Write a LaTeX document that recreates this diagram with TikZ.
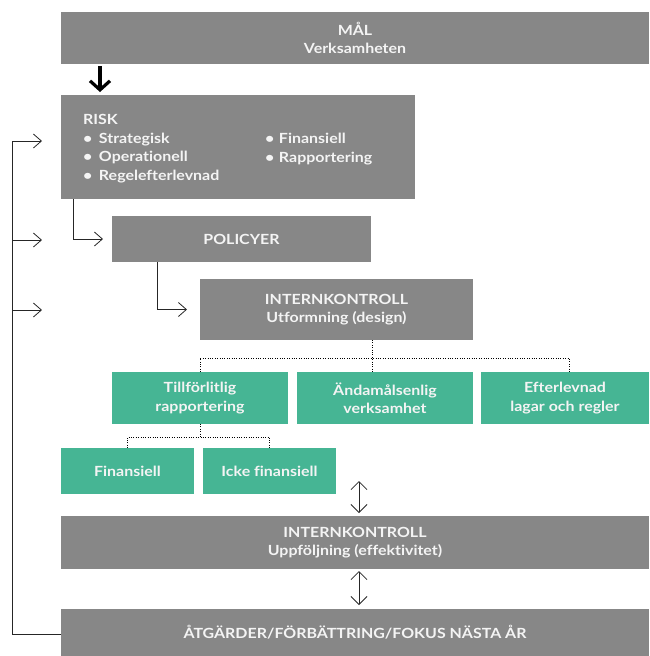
\documentclass[tikz,border=0pt]{standalone}
\usepackage{fontspec}
\setmainfont{Lato}[FakeStretch=1.14, Ligatures=NoCommon]
\usetikzlibrary{arrows.meta}
\definecolor{boxgray}{HTML}{878787}
\definecolor{boxgreen}{HTML}{46B594}
\definecolor{txtc}{HTML}{F4F4F4}
\begin{document}
\begin{tikzpicture}[x=1pt,y=-1pt,
  box/.style={inner sep=0pt, outer sep=0pt, text=txtc, font=\fontsize{14}{18.5}\selectfont\bfseries, align=center},
  gbox/.style={box, fill=boxgray},
  grbox/.style={box, fill=boxgreen},
  lbl/.style={inner sep=0pt, outer sep=0pt, text=txtc, font=\fontsize{14}{18.5}\selectfont\bfseries, align=left, anchor=base west},
  conn/.style={line width=0.8pt, draw=black!85},
  arr/.style={conn, -{Straight Barb[length=8pt,width=14pt]}},
  darr/.style={conn, {Straight Barb[length=8pt,width=16pt]}-{Straight Barb[length=8pt,width=16pt]}},
  dots/.style={line width=0.9pt, dash pattern=on 0.9pt off 1.5pt},
  bigarr/.style={line width=3.2pt, draw=black, -{Straight Barb[length=9pt,width=20pt]}},
]
\useasboundingbox (0,0) rectangle (649,656);
% boxes
\node[gbox, minimum width=588pt, minimum height=52pt] (mal) at (355,38) {MÅL\\Verksamheten};
\node[gbox, minimum width=354pt, minimum height=104pt] (risk) at (238,147) {};
\node[gbox, minimum width=259pt, minimum height=46pt] (pol) at (241.5,239) {POLICYER};
\node[gbox, minimum width=273pt, minimum height=61pt] (ik1) at (336.5,309.5) {INTERNKONTROLL\\Utformning (design)};
\node[grbox, minimum width=176pt, minimum height=52pt] (g1) at (200,398) {Tillförlitlig\\rapportering};
\node[grbox, minimum width=176pt, minimum height=52pt] (g2) at (385,398) {Ändamålsenlig\\verksamhet};
\node[grbox, minimum width=168pt, minimum height=52pt] (g3) at (565,398) {Efterlevnad\\lagar och regler};
\node[grbox, minimum width=133pt, minimum height=46pt] (f1) at (127.5,471) {Finansiell};
\node[grbox, minimum width=133pt, minimum height=46pt] (f2) at (269.5,471) {Icke finansiell};
\node[gbox, minimum width=588pt, minimum height=53pt] (ik2) at (355,542.5) {INTERNKONTROLL\\Uppföljning (effektivitet)};
\node[gbox, minimum width=588pt, minimum height=47pt] (atg) at (355,632.5) {ÅTGÄRDER/FÖRBÄTTRING/FOKUS NÄSTA ÅR};
% risk texts (anchor = baseline of last line)
\node[lbl] (risk1) at (83,180) {RISK\\\makebox[16pt][l]{•}Strategisk\\\makebox[16pt][l]{•}Operationell\\\makebox[16pt][l]{•}Regelefterlevnad};
\node[lbl] (risk2) at (265,162) {\makebox[14pt][l]{•}Finansiell\\\makebox[14pt][l]{•}Rapportering};
% black arrow
\coordinate (ba) at (100,66);
\draw[bigarr, shorten >=3pt] (ba) -- (ba |- risk.north);
% feedback loop
\coordinate (lb) at (12,634);
\coordinate (lt) at (12,141);
\coordinate (lm1) at (12,240);
\coordinate (lm2) at (12,310);
\coordinate (e1) at (42,141);
\coordinate (e2) at (42,240);
\coordinate (e3) at (42,310);
\draw[conn] (lb -| atg.west) -- (lb) -- (lt);
\draw[arr] (lt) -- (e1);
\draw[arr] (lm1) -- (e2);
\draw[arr] (lm2) -- (e3);
% risk -> policy -> ik1
\draw[arr] ([xshift=12pt]risk.south west) |- ([xshift=-9pt]pol.west);
\draw[arr] ([xshift=45pt]pol.south west) |- ([xshift=-13pt]ik1.west);
% dotted tree
\coordinate (dl) at (200,358);
\coordinate (dr) at (569,358);
\draw[dots] ([xshift=35.5pt]ik1.south) -- ([xshift=35.5pt]ik1.south |- g2.north);
\draw[dots] (g1.north) -- (dl) -- (dr) -- (dr |- g3.north);
\coordinate (l2) at (0,437);
\draw[dots] (g1.south) -- (g1.south |- l2);
\draw[dots] (f1.north) -- (f1.north |- l2) -- (f2.north |- l2) -- (f2.north);
% double arrows
\coordinate (da) at (359,481);
\draw[darr, shorten >=3pt] (da) -- (da |- ik2.north);
\draw[darr, shorten <=2pt, shorten >=4pt] (da |- ik2.south) -- (da |- atg.north);
\end{tikzpicture}
\end{document}
